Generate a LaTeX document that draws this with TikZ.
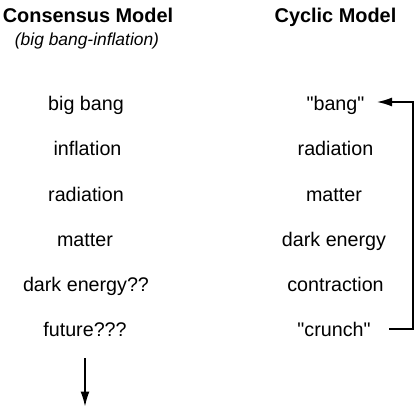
\documentclass[tikz,border=0pt]{standalone}
\usepackage{fontspec}
\setmainfont{Liberation Sans}
\newfontfamily\qfont{Liberation Sans}[Ligatures=ResetAll]
\usetikzlibrary{arrows.meta}
\newcommand{\sq}{{\qfont\char34}}
\begin{document}
\begin{tikzpicture}[x=1pt,y=1pt,
  head/.style={font=\fontsize{19.9}{23}\selectfont\bfseries, inner sep=0pt, anchor=base},
  sub/.style={font=\fontsize{17.4}{20}\selectfont\itshape, inner sep=0pt, anchor=base},
  item/.style={font=\fontsize{19.7}{22}\selectfont, inner sep=0pt, anchor=base},
  conn/.style={line width=1.5pt, -{Latex[length=15pt,width=9pt]}}]
\useasboundingbox (0,0) rectangle (415,408);
\node[head] (h1) at (88,385) {Consensus Model};
\node[head] (h2) at (335.5,385) {Cyclic Model};
\node[sub] (s1) at (87,362) {(big bang-inflation)};
\node[item] (l1) at (86,298) {big bang};
\node[item] (l2) at (87.5,252.5) {inflation};
\node[item] (l3) at (86,207) {radiation};
\node[item] (l4) at (85,162) {matter};
\node[item] (l5) at (86,117) {dark energy??};
\node[item] (l6) at (85,72) {future???};
\node[item] (r1) at (335.5,298) {\sq bang\sq};
\node[item] (r2) at (335.5,252.5) {radiation};
\node[item] (r3) at (334,207) {matter};
\node[item] (r4) at (334,162) {dark energy};
\node[item] (r5) at (335.5,117) {contraction};
\node[item] (r6) at (334,72) {\sq crunch\sq};
\coordinate (c0) at (389,79);
\coordinate (c1) at (413,79);
\coordinate (c2) at (413,306);
\coordinate (c3) at (377,306);
\coordinate (b1) at (85,50);
\coordinate (b2) at (85,1.5);
\draw[conn] (c0) -- (c1) -- (c2) -- (c3);
\draw[conn] (b1) -- (b2);
\end{tikzpicture}
\end{document}
